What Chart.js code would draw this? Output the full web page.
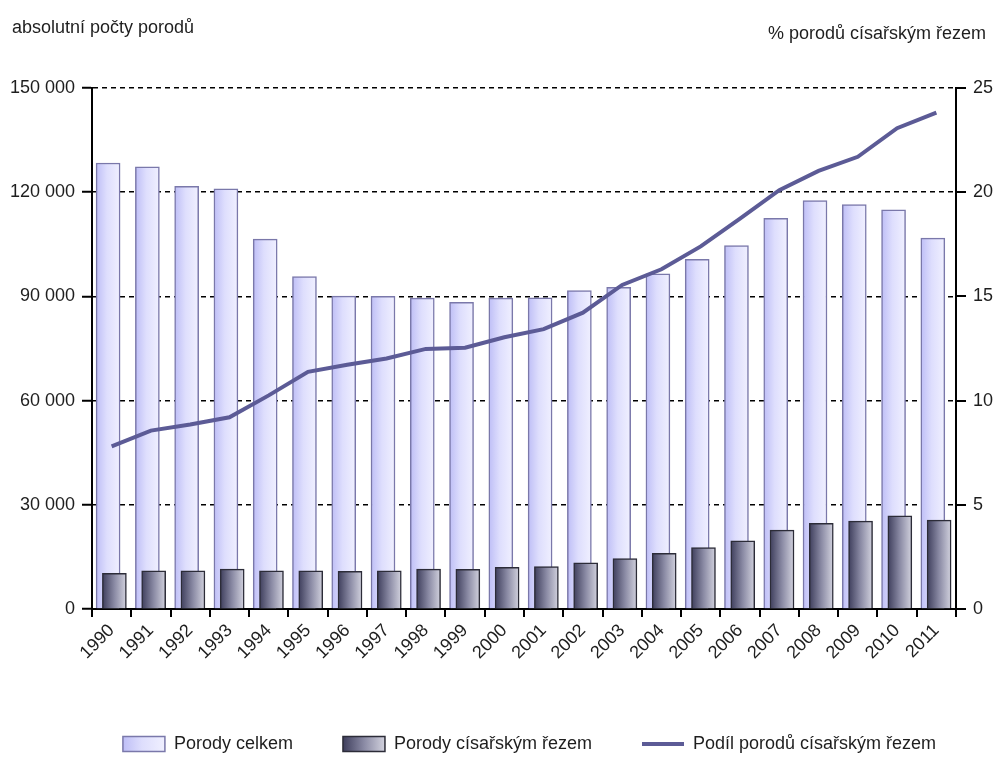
<!DOCTYPE html>
<html>
<head>
<meta charset="utf-8">
<script src="https://cdn.jsdelivr.net/npm/chart.js@4"></script>
<style>
  html, body { margin: 0; padding: 0; background: #fff; }
  #wrap { width: 997px; height: 758px; }
</style>
</head>
<body>
<div id="wrap"><canvas id="birthChart" width="997" height="758"></canvas></div>
<script>
// data
const years = ["1990", "1991", "1992", "1993", "1994", "1995", "1996", "1997", "1998", "1999", "2000",
  "2001", "2002", "2003", "2004", "2005", "2006", "2007", "2008", "2009", "2010", "2011"];
const birthsTotal = [128400, 127300, 121700, 121000, 106500, 95700, 90100, 90000, 89500, 88300, 89500,
  89600, 91700, 92600, 96500, 100700, 104600, 112500, 117600, 116400, 114900, 106800];
const birthsCaesarean = [10300, 11000, 11000, 11500, 11000, 11000, 10850, 11000, 11500, 11400, 12000,
  12200, 13300, 14500, 16000, 17700, 19600, 22700, 24700, 25300, 26800, 25600];
const caesareanShare = [7.8, 8.56, 8.85, 9.2, 10.25, 11.38, 11.72, 12.02, 12.48, 12.54, 13.04,
  13.43, 14.22, 15.55, 16.3, 17.4, 18.73, 20.1, 21.02, 21.7, 23.07, 23.82];
const leftTicks = [0, 30000, 60000, 90000, 120000, 150000];
const rightTicks = [0, 5, 10, 15, 20, 25];
const seriesNames = ["Porody celkem", "Porody císařským řezem", "Podíl porodů císařským řezem"];
const axisTitleLeft = "absolutní počty porodů";
const axisTitleRight = "% porodů císařským řezem";

const FONT = "'Liberation Sans', Arial, sans-serif";
const TEXT = "#1e1e1e";
const BAR_W = 24;
const LEGEND_BOX = 42;

// per-bar horizontal gradient, positioned with the bar's own scale
function barGradient(axisId, stops, solid) {
  return function (ctx) {
    const chart = ctx.chart;
    const scale = chart.scales[axisId];
    if (!scale || ctx.type !== "data" || !ctx.parsed) return solid;
    const cx = scale.getPixelForValue(ctx.parsed.x);
    if (!isFinite(cx)) return solid;
    const g = chart.ctx.createLinearGradient(cx - BAR_W / 2, 0, cx + BAR_W / 2, 0);
    stops.forEach(([pos, col]) => g.addColorStop(pos, col));
    return g;
  };
}

const lightStops = [[0, "#bebef6"], [0.45, "#dedefd"], [1, "#f0f0ff"]];
const darkStops = [[0, "#3e3e5c"], [0.5, "#8a8aa4"], [1, "#d2d2de"]];
let legendLefts = null;

function legendFill(chart, i, stops, solid) {
  if (!legendLefts || !isFinite(legendLefts[i])) return solid;
  const g = chart.ctx.createLinearGradient(legendLefts[i], 0, legendLefts[i] + LEGEND_BOX, 0);
  stops.forEach(([pos, col]) => g.addColorStop(pos, col));
  return g;
}

// the two axis captions above the plot
const captionPlugin = {
  id: "captions",
  afterDraw(chart) {
    const c = chart.ctx;
    c.save();
    c.font = "18px " + FONT;
    c.fillStyle = TEXT;
    c.textBaseline = "alphabetic";
    c.textAlign = "left";
    c.fillText(axisTitleLeft, 12, 33);
    c.textAlign = "right";
    c.fillText(axisTitleRight, 986, 39);
    c.restore();
  },
};

// the legend in the reference sits a bit right of the page centre
const legendShift = {
  id: "legendShift",
  afterLayout(chart) {
    chart.legend.left += 31;
    chart.legend.right += 31;
  },
};

const ctx = document.getElementById("birthChart").getContext("2d");
const chart = new Chart(ctx, {
  data: {
    labels: years,
    datasets: [
      {
        type: "bar",
        label: seriesNames[0],
        data: birthsTotal.map((v, i) => ({ x: Number(years[i]), y: v })),
        xAxisID: "xTotal",
        yAxisID: "y",
        grouped: false,
        backgroundColor: barGradient("xTotal", lightStops, "#dcdcfb"),
        borderColor: "#7a78aa",
        borderWidth: 1.5,
        barThickness: BAR_W,
        pointStyle: "rect",
        order: 3,
      },
      {
        type: "bar",
        label: seriesNames[1],
        data: birthsCaesarean.map((v, i) => ({ x: Number(years[i]), y: v })),
        xAxisID: "xCaes",
        yAxisID: "y",
        grouped: false,
        backgroundColor: barGradient("xCaes", darkStops, "#8a8aa0"),
        borderColor: "#2c2c38",
        borderWidth: 1.5,
        barThickness: BAR_W,
        pointStyle: "rect",
        order: 2,
      },
      {
        type: "line",
        label: seriesNames[2],
        data: caesareanShare,
        xAxisID: "x",
        yAxisID: "y2",
        borderColor: "#5c5b96",
        backgroundColor: "#5c5b96",
        borderWidth: 4,
        pointRadius: 0,
        pointStyle: "line",
        tension: 0,
        order: 1,
      },
    ],
  },
  options: {
    responsive: false,
    animation: false,
    layout: { padding: { top: 88, left: 0, right: 0, bottom: -5 } },
    plugins: {
      tooltip: { enabled: false },
      legend: {
        position: "bottom",
        labels: {
          font: { family: FONT, size: 18 },
          color: TEXT,
          usePointStyle: true,
          pointStyleWidth: LEGEND_BOX,
          boxHeight: 15,
          padding: 50,
          generateLabels(chart) {
            const items = Chart.defaults.plugins.legend.labels.generateLabels(chart);
            items.sort((a, b) => a.datasetIndex - b.datasetIndex);
            items[0].fillStyle = legendFill(chart, 0, lightStops, "#dcdcfb");
            items[0].strokeStyle = "#7a78aa";
            items[0].lineWidth = 1.5;
            items[1].fillStyle = legendFill(chart, 1, darkStops, "#8a8aa0");
            items[1].strokeStyle = "#2c2c38";
            items[1].lineWidth = 1.5;
            items[2].strokeStyle = "#5c5b96";
            items[2].lineWidth = 4;
            return items;
          },
        },
      },
    },
    scales: {
      x: {
        type: "category",
        position: "bottom",
        offset: true,
        afterFit(scale) {
          scale.height = 76;
        },
        grid: {
          offset: true,
          drawOnChartArea: false,
          color: "#000",
          lineWidth: 2,
          tickLength: 8,
        },
        border: { color: "#000", width: 2 },
        ticks: {
          autoSkip: false,
          minRotation: 45,
          maxRotation: 45,
          padding: 3,
          color: TEXT,
          font: { family: FONT, size: 18 },
        },
      },
      xTotal: {
        type: "linear",
        display: false,
        offset: false,
        grid: { offset: false },
        min: Number(years[0]) - 0.5 + 0.09,
        max: Number(years[years.length - 1]) + 0.5 + 0.09,
      },
      xCaes: {
        type: "linear",
        display: false,
        offset: false,
        grid: { offset: false },
        min: Number(years[0]) - 0.5 - 0.07,
        max: Number(years[years.length - 1]) + 0.5 - 0.07,
      },
      y: {
        position: "left",
        min: leftTicks[0],
        max: leftTicks[leftTicks.length - 1],
        afterBuildTicks(scale) {
          scale.ticks = leftTicks.map((v) => ({ value: v }));
        },
        afterFit(scale) {
          scale.width = 92;
        },
        grid: {
          color: "#000",
          lineWidth: 1.5,
          tickLength: 10,
          tickColor: "#000",
          tickWidth: 2,
        },
        border: { color: "#000", width: 2, dash: [5, 4] },
        ticks: {
          padding: 7,
          color: TEXT,
          font: { family: FONT, size: 18 },
          callback: (v) => String(v).replace(/\B(?=(\d{3})+(?!\d))/g, " "),
        },
      },
      y2: {
        position: "right",
        min: rightTicks[0],
        max: rightTicks[rightTicks.length - 1],
        afterBuildTicks(scale) {
          scale.ticks = rightTicks.map((v) => ({ value: v }));
        },
        afterFit(scale) {
          scale.width = 41;
        },
        grid: {
          drawOnChartArea: false,
          color: "#000",
          lineWidth: 2,
          tickLength: 10,
        },
        border: { color: "#000", width: 2 },
        ticks: {
          padding: 7,
          color: TEXT,
          font: { family: FONT, size: 18 },
        },
      },
    },
  },
  plugins: [captionPlugin, legendShift],
});

// second pass: legend gradients need the legend box positions
legendLefts = chart.legend.legendHitBoxes.map((b) => b.left);
chart.update("none");
</script>
</body>
</html>
